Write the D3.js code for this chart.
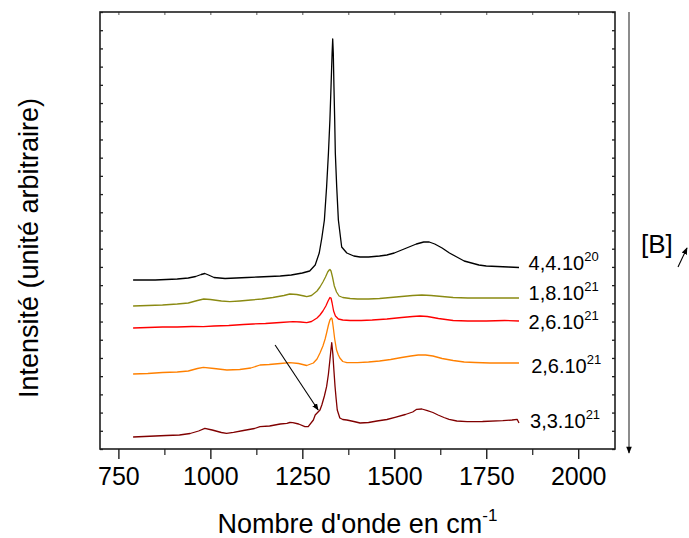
<!DOCTYPE html>
<html>
<head>
<meta charset="utf-8">
<script src="https://cdn.jsdelivr.net/npm/d3@7"></script>
<style>
  html, body { margin: 0; padding: 0; background: #fff; }
  svg { display: block; font-family: Arial, "Liberation Sans", sans-serif; }
</style>
</head>
<body>
<svg id="chart" width="689" height="538"></svg>
<script>
// ---- Data (arbitrary intensity units) ----
const wnBlack  = [790,820,850,880,910,940,960,975,985,995,1010,1040,1070,1100,1130,1160,1190,1220,1250,1270,1285,1296,1303,1310,1316,1321,1325,1328,1331,1332.6,1334.2,1336,1338,1339.7,1343.5,1348,1357,1371,1390,1407,1430,1460,1480,1500,1520,1540,1560,1580,1595,1610,1630,1650,1670,1690,1710,1730,1750,1780,1810,1839];
const intBlack = [169,169,169,169.5,170,171,172.5,174.5,175.5,174,171.5,170.5,171,171.5,172,172.5,173,174,176,178,184,196,211,229,262,296,329,362,396,410,396,362,329,296,262,229,202,196,193,192,192,193,194,196,199,202,205,207,207,205,201,196,192,188,186,184,183,182.5,182,181.5];

const wnOlive  = [790,830,870,910,940,965,982,1000,1030,1053,1080,1110,1140,1170,1200,1216,1235,1255,1262,1275,1290,1298,1306,1313,1319,1323,1325,1328,1332,1337,1343,1350,1360,1380,1400,1430,1460,1490,1520,1550,1575,1600,1630,1660,1700,1750,1800,1839];
const intOlive = [143,143.5,144,145,146,148.5,150,149.5,148,147.3,148,149,150,151.5,153.5,155,154.5,153,152.3,153.5,158,162,167,172,177,179,179.5,178,172,163,157,153,151.5,150.5,150,150,150.5,151.5,152.5,153.5,154,153.5,152.5,151.5,151,151,151,151];

const wnRed  = [790,830,870,910,950,981,1010,1050,1090,1116,1150,1190,1225,1245,1262,1275,1290,1298,1306,1314,1320,1325,1328,1331,1335,1340,1348,1360,1380,1410,1440,1480,1520,1550,1570,1590,1620,1660,1700,1750,1800,1839];
const intRed = [121,121.5,122,122,122.5,122.3,123,123.5,124.5,125,125.5,126.5,127.3,127,126.3,127.5,131,134,138,143,148,151.5,151,146,138,133,130,129,128.5,128.5,129,130,131.5,132.5,133,132.5,130.5,128.5,128,128,128.5,128];

const wnOrange  = [790,830,870,910,940,965,981,1010,1045,1080,1110,1135,1160,1190,1216,1240,1262,1280,1290,1298,1306,1312,1316,1321,1325,1329,1331,1334,1338,1343,1348,1352,1360,1371,1400,1430,1460,1490,1520,1545,1565,1585,1605,1630,1660,1690,1720,1760,1800,1839];
const intOrange = [75,75.5,76.5,77,78,80.5,81.7,80.5,79,79.5,81,84,84.5,85.5,86.3,85.5,83.5,86,90,96,103,110,116,124,129,131,130,122,110,99,94,91,87.5,86.3,86.3,87,88,89.5,91.5,93,94,94,93,90.5,88.5,87,86.5,86,86,86];

const wnDark  = [790,820,850,880,916,945,968,985,1005,1030,1044,1063,1090,1120,1135,1161,1190,1208,1216,1224,1240,1257,1266,1280,1285,1298,1303,1310,1316,1321,1325,1328,1330,1333,1336,1339,1342,1345,1352,1360,1371,1390,1407,1430,1453,1480,1502,1530,1550,1561,1575,1590,1605,1619,1635,1649,1670,1698,1740,1795,1820,1834,1839];
const intDark = [12,12.5,13,13.5,14,15.5,18,20.7,19,16.5,15.7,16.7,18.5,20.5,22.3,23,25,25.7,26.5,26.3,25,22.3,22.3,29,34,39,44,53,62.3,75,89,100,106.3,95,78,62.3,50,39,31,29.5,29,27.5,26,26.5,28,29.5,31.7,34.5,37,39.7,40,38.3,36.5,34,31.5,29.7,28,27.3,27.5,28.3,29,29.7,26];

const seriesLabels = ["4,4.10", "1,8.10", "2,6.10", "2,6.10", "3,3.10"];
const seriesSup    = ["20", "21", "21", "21", "21"];
const seriesColors = ["#000000", "#8a8a12", "#ff0000", "#ff8000", "#800000"];
const labelWn  = [1865, 1865, 1865, 1872, 1869];
const labelInt = [179, 149, 120, 76, 21];

const xMajorTicks = [750, 1000, 1250, 1500, 1750, 2000];
const xMinorTicks = [875, 1125, 1375, 1625, 1875];
const xAllTicks   = [750, 875, 1000, 1125, 1250, 1375, 1500, 1625, 1750, 1875, 2000];

const annotStart = {wn: 1176, v: 104};
const annotEnd   = {wn: 1293, v: 39};

// ---- Build ----
const svg = d3.select("#chart");
const m = {left: 100, top: 12, right: 74, bottom: 89};
const W = 689, H = 538;
const x = d3.scaleLinear().domain([700, 2100]).range([m.left, W - m.right]);
const y = d3.scaleLinear().domain([0, 437]).range([H - m.bottom, m.top]);
const yTicks = d3.range(0, 25).map(i => i * 437 / 24);

const data = [
  {wn: wnBlack, v: intBlack},
  {wn: wnOlive, v: intOlive},
  {wn: wnRed, v: intRed},
  {wn: wnOrange, v: intOrange},
  {wn: wnDark, v: intDark}
].map((s, i) => ({
  pts: s.wn.map((w, j) => [w, s.v[j]]),
  color: seriesColors[i], label: seriesLabels[i], sup: seriesSup[i],
  lw: labelWn[i], lv: labelInt[i]
}));

const x0 = x.range()[0], x1 = x.range()[1], y0 = y.range()[0], y1 = y.range()[1];
const axisColor = "#1e1e1e";

// bottom axis major
const gB = svg.append("g").attr("transform", `translate(0,${y0})`)
  .call(d3.axisBottom(x).tickValues(xMajorTicks).tickSize(10).tickPadding(8).tickFormat(d3.format("d")));
gB.select(".domain").remove();
gB.selectAll("line").attr("stroke", axisColor).attr("stroke-width", 1.4);
gB.selectAll("text").attr("font-size", 25).attr("fill", "#000").attr("font-family", "Arial, 'Liberation Sans', sans-serif");
// bottom minor
const gBm = svg.append("g").attr("transform", `translate(0,${y0})`)
  .call(d3.axisBottom(x).tickValues(xMinorTicks).tickSize(6).tickFormat(""));
gBm.select(".domain").remove();
gBm.selectAll("line").attr("stroke", axisColor).attr("stroke-width", 1.2);
// top ticks inward
const gT = svg.append("g").attr("transform", `translate(0,${y1})`)
  .call(d3.axisBottom(x).tickValues(xAllTicks).tickSize(3).tickFormat(""));
gT.select(".domain").remove();
gT.selectAll("line").attr("stroke", "#555").attr("stroke-width", 1);
// left ticks inward
const gL = svg.append("g").attr("transform", `translate(${x0},0)`)
  .call(d3.axisRight(y).tickValues(yTicks).tickSize(3).tickFormat(""));
gL.select(".domain").remove();
gL.selectAll("line").attr("stroke", axisColor).attr("stroke-width", 1.3);
// right ticks inward
const gR = svg.append("g").attr("transform", `translate(${x1},0)`)
  .call(d3.axisLeft(y).tickValues(yTicks).tickSize(3).tickFormat(""));
gR.select(".domain").remove();
gR.selectAll("line").attr("stroke", axisColor).attr("stroke-width", 1.3);

// frame
svg.append("rect").attr("x", x0).attr("y", y1).attr("width", x1 - x0).attr("height", y0 - y1)
  .attr("fill", "none").attr("stroke", axisColor).attr("stroke-width", 1.6);

// spectra
const line = d3.line().x(d => x(d[0])).y(d => y(d[1]));
svg.append("g").selectAll("path").data(data).join("path")
  .attr("d", d => line(d.pts))
  .attr("fill", "none").attr("stroke", d => d.color).attr("stroke-width", 1.3)
  .attr("stroke-linejoin", "round");

// series labels
const lab = svg.append("g").selectAll("text").data(data).join("text")
  .attr("x", d => x(d.lw)).attr("y", d => y(d.lv))
  .attr("font-size", 20).attr("fill", "#000");
lab.append("tspan").text(d => d.label);
lab.append("tspan").attr("dy", -9).attr("font-size", 13).text(d => d.sup);

// arrow markers
const defs = svg.append("defs");
defs.append("marker").attr("id", "ah").attr("viewBox", "0 0 10 10")
  .attr("refX", 9).attr("refY", 5).attr("markerWidth", 7).attr("markerHeight", 7)
  .attr("markerUnits", "userSpaceOnUse").attr("orient", "auto")
  .append("path").attr("d", "M0,1 L10,5 L0,9 Z").attr("fill", "#000");
defs.append("marker").attr("id", "ah2").attr("viewBox", "0 0 10 10")
  .attr("refX", 9).attr("refY", 5).attr("markerWidth", 9).attr("markerHeight", 7)
  .attr("markerUnits", "userSpaceOnUse").attr("orient", "auto")
  .append("path").attr("d", "M0,1 L10,5 L0,9 Z").attr("fill", "#000");

// annotation arrow
svg.append("line")
  .attr("x1", x(annotStart.wn)).attr("y1", y(annotStart.v))
  .attr("x2", x(annotEnd.wn)).attr("y2", y(annotEnd.v))
  .attr("stroke", "#000").attr("stroke-width", 1.1).attr("marker-end", "url(#ah)");

// [B] arrow on the right
const bx = x1 + 14;
svg.append("line").attr("x1", bx).attr("y1", y1).attr("x2", bx).attr("y2", y0 + 4)
  .attr("stroke", "#666").attr("stroke-width", 1.5).attr("marker-end", "url(#ah2)");
svg.append("text").attr("x", bx + 12).attr("y", 253).attr("font-size", 26).attr("fill", "#000").text("[B]");
svg.append("line").attr("x1", bx + 49).attr("y1", 267).attr("x2", bx + 58).attr("y2", 248)
  .attr("stroke", "#000").attr("stroke-width", 1.1).attr("marker-end", "url(#ah)");

// axis titles
const xt = svg.append("text").attr("x", (x0 + x1) / 2).attr("y", 533)
  .attr("text-anchor", "middle").attr("font-size", 27).attr("fill", "#000");
xt.append("tspan").text("Nombre d'onde en cm");
xt.append("tspan").attr("dy", -12).attr("font-size", 17).text("-1");

svg.append("text").attr("transform", `translate(38,248) rotate(-90)`)
  .attr("text-anchor", "middle").attr("font-size", 27).attr("fill", "#000")
  .text("Intensité (unité arbitraire)");
</script>
</body>
</html>
